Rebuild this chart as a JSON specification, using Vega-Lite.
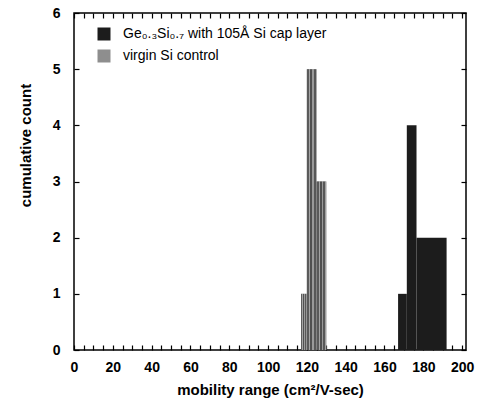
{
  "$schema": "https://vega.github.io/schema/vega-lite/v6.json",
  "width": 392,
  "height": 337,
  "autosize": {"type": "none"},
  "padding": {"left": 74, "top": 13, "right": 25, "bottom": 66},
  "config": {
    "font": "Liberation Sans",
    "view": {"stroke": "black", "strokeWidth": 1.5},
    "axis": {
      "domain": false,
      "tickColor": "black",
      "tickWidth": 1.2,
      "tickSize": 5,
      "offset": -5,
      "labelColor": "black",
      "titleColor": "black",
      "labelFont": "Liberation Sans",
      "titleFont": "Liberation Sans",
      "labelFontSize": 14,
      "labelFontWeight": "bold",
      "titleFontSize": 15,
      "titleFontWeight": "bold",
      "grid": false
    }
  },
  "data": {
    "values": [
      {"series": "Ge₀.₃Si₀.₇  with 105Å Si cap layer", "x": 167, "x2": 171.5, "count": 1},
      {"series": "Ge₀.₃Si₀.₇  with 105Å Si cap layer", "x": 171.5, "x2": 176.5, "count": 4},
      {"series": "Ge₀.₃Si₀.₇  with 105Å Si cap layer", "x": 176.5, "x2": 192, "count": 2},
      {"series": "virgin Si control", "x": 117, "x2": 120, "count": 1},
      {"series": "virgin Si control", "x": 120, "x2": 125, "count": 5},
      {"series": "virgin Si control", "x": 125, "x2": 130, "count": 3}
    ]
  },
  "layer": [
    {
      "mark": {"type": "rect"},
      "encoding": {
        "x": {
          "field": "x",
          "type": "quantitative",
          "scale": {"domain": [0, 202], "nice": false, "zero": false},
          "axis": {
            "orient": "bottom",
            "values": [0,5,10,15,20,25,30,35,40,45,50,55,60,65,70,75,80,85,90,95,100,105,110,115,120,125,130,135,140,145,150,155,160,165,170,175,180,185,190,195,200],
            "labelExpr": "datum.value % 20 == 0 ? datum.label : ''",
            "labelPadding": 10,
            "labelFlush": false,
            "labelOverlap": false,
            "title": "mobility range  (cm²/V-sec)",
            "titlePadding": 8
          }
        },
        "x2": {"field": "x2"},
        "y": {
          "field": "count",
          "type": "quantitative",
          "scale": {"domain": [0, 6], "nice": false},
          "axis": {
            "orient": "left",
            "values": [0,1,2,3,4,5,6],
            "labelPadding": 14,
            "labelFlush": false,
            "title": "cumulative count",
            "titleX": -46,
            "titleY": 132
          }
        },
        "y2": {"datum": 0},
        "color": {
          "field": "series",
          "type": "nominal",
          "scale": {
            "domain": ["Ge₀.₃Si₀.₇  with 105Å Si cap layer", "virgin Si control"],
            "range": ["#1c1c1c", "#8e8e8e"]
          },
          "legend": {
            "orient": "none",
            "legendX": 23,
            "legendY": 14,
            "padding": 0,
            "title": null,
            "symbolType": "square",
            "symbolSize": 169,
            "symbolStrokeWidth": 0,
            "symbolOpacity": 1,
            "labelFontSize": 14,
            "labelFont": "Liberation Sans",
            "labelColor": "black",
            "labelOffset": 12,
            "rowPadding": 8,
            "labelLimit": 400
          }
        }
      }
    },
    {
      "transform": [{"filter": "datum.series == 'virgin Si control'"}],
      "mark": {
        "type": "rect",
        "color": {
          "gradient": "linear",
          "x1": 0, "y1": 0, "x2": 1, "y2": 0,
          "stops": [
            {"offset": 0, "color": "#5a5a5a"},
            {"offset": 0.2, "color": "#5a5a5a"},
            {"offset": 0.2, "color": "#a4a4a4"},
            {"offset": 0.35, "color": "#a4a4a4"},
            {"offset": 0.35, "color": "#505050"},
            {"offset": 0.55, "color": "#505050"},
            {"offset": 0.55, "color": "#9a9a9a"},
            {"offset": 0.7, "color": "#9a9a9a"},
            {"offset": 0.7, "color": "#585858"},
            {"offset": 0.9, "color": "#585858"},
            {"offset": 0.9, "color": "#a0a0a0"},
            {"offset": 1, "color": "#a0a0a0"}
          ]
        }
      },
      "encoding": {
        "x": {"field": "x", "type": "quantitative", "axis": null},
        "x2": {"field": "x2"},
        "y": {"field": "count", "type": "quantitative", "axis": null},
        "y2": {"datum": 0}
      }
    },
    {
      "mark": {"type": "rect", "opacity": 0},
      "encoding": {
        "x": {
          "field": "x",
          "type": "quantitative",
          "axis": {
            "orient": "top",
            "values": [0,5,10,15,20,25,30,35,40,45,50,55,60,65,70,75,80,85,90,95,100,105,110,115,120,125,130,135,140,145,150,155,160,165,170,175,180,185,190,195,200],
            "labels": false,
            "title": null
          }
        },
        "x2": {"field": "x2"},
        "y": {
          "field": "count",
          "type": "quantitative",
          "axis": {
            "orient": "right",
            "values": [0,1,2,3,4,5,6],
            "labels": false,
            "title": null
          }
        },
        "y2": {"datum": 0}
      }
    }
  ],
  "resolve": {"axis": {"x": "independent", "y": "independent"}}
}
